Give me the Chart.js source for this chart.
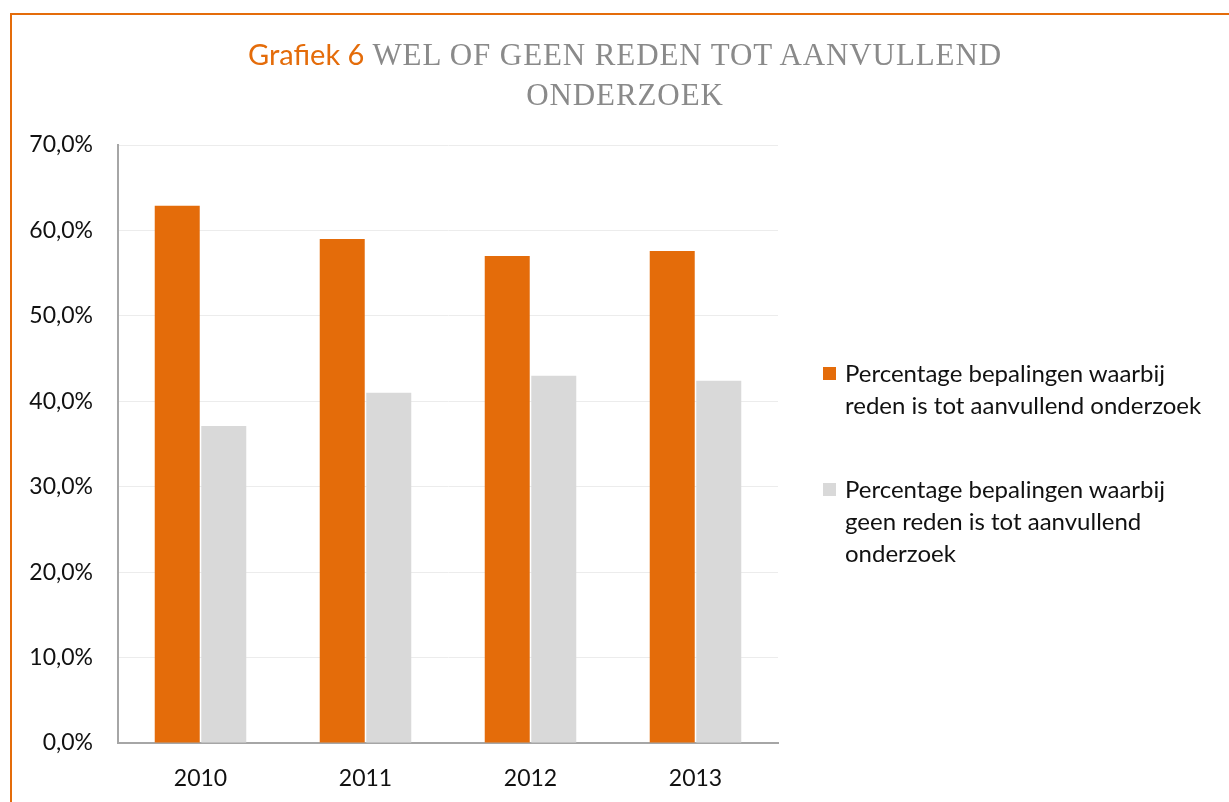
<!DOCTYPE html>
<html>
<head>
<meta charset="utf-8">
<script src="https://cdn.jsdelivr.net/npm/chart.js@4/dist/chart.umd.min.js"></script>
<style>
  body { margin: 0; background: #fff; width: 1229px; height: 802px; overflow: hidden; position: relative; font-family: Lato, "Open Sans", sans-serif; }
  #frame { position: absolute; left: 10px; top: 13px; width: 1300px; height: 900px; border-left: 2px solid #e46c0a; border-top: 2px solid #e46c0a; }
  #grafiek { position: absolute; left: 0; top: 0; }
  #titel { position: absolute; left: 125px; width: 1000px; top: 34px; text-align: center; color: #8a8a8a; font-family: "Liberation Serif", serif; font-size: 31px; line-height: 40px; letter-spacing: 0.9px; }
  #titel .nr { color: #e46c0a; font-family: Lato, sans-serif; font-size: 29px; letter-spacing: 0; }
  #legenda { position: absolute; left: 823px; top: 357px; font-size: 24px; line-height: 32px; color: #111; }
  .item { display: flex; align-items: flex-start; margin-bottom: 52px; }
  .blok { width: 13px; height: 13px; margin-top: 10px; margin-right: 9px; flex: none; }
</style>
</head>
<body>
<div id="frame"></div>
<canvas id="grafiek" width="1229" height="802"></canvas>
<div id="titel"><span class="nr">Grafiek 6</span> WEL OF GEEN REDEN TOT AANVULLEND<br>ONDERZOEK</div>
<div id="legenda"></div>
<script>
const jaren = ['2010', '2011', '2012', '2013'];
const welReden = [62.9, 59.0, 57.0, 57.6];
const geenReden = [37.1, 41.0, 43.0, 42.4];
const reeksNamen = [
  ['Percentage bepalingen waarbij', 'reden is tot aanvullend onderzoek'],
  ['Percentage bepalingen waarbij', 'geen reden is tot aanvullend', 'onderzoek']
];
const kleuren = ['#e46c0a', '#d9d9d9'];

document.getElementById('legenda').innerHTML = reeksNamen.map((regels, i) => `
  <div class="item"><div class="blok" style="background:${kleuren[i]}"></div><div>${regels.join('<br>')}</div></div>
`).join('');

new Chart(document.getElementById('grafiek'), {
  type: 'bar',
  data: {
    labels: jaren,
    datasets: [
      { label: reeksNamen[0].join(' '), data: welReden, backgroundColor: kleuren[0] },
      { label: reeksNamen[1].join(' '), data: geenReden, backgroundColor: kleuren[1] }
    ]
  },
  options: {
    responsive: false,
    animation: false,
    layout: { padding: { left: 0, right: 451, top: 145, bottom: 0 } },
    datasets: { bar: { categoryPercentage: 0.564, barPercentage: 0.967 } },
    plugins: { legend: { display: false }, tooltip: { enabled: false } },
    scales: {
      x: {
        afterFit: s => { s.height = 59; },
        grid: { display: false },
        border: { display: true, color: '#a6a6a6', width: 2 },
        ticks: { padding: 14, color: '#111', font: { family: 'Lato', size: 23 } }
      },
      y: {
        min: 0,
        max: 70,
        afterFit: s => { s.width = 118; },
        grid: { color: '#ececec', drawTicks: false },
        border: { display: true, color: '#a6a6a6', width: 2 },
        ticks: {
          stepSize: 10,
          padding: 25,
          color: '#111',
          font: { family: 'Lato', size: 23 },
          callback: v => v.toFixed(1).replace('.', ',') + '%'
        }
      }
    }
  }
});
</script>
</body>
</html>
